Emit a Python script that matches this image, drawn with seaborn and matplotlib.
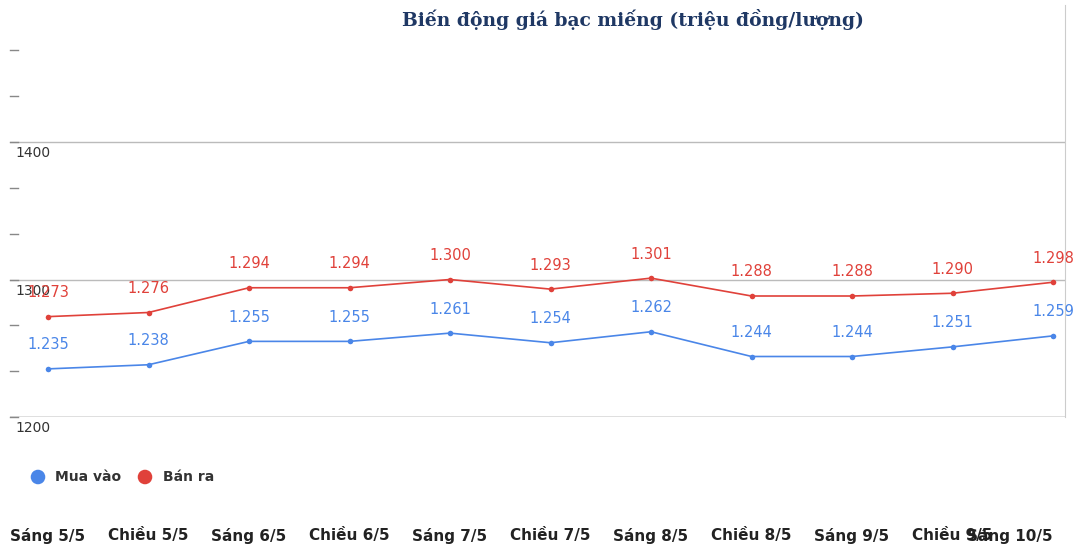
import matplotlib
matplotlib.use("Agg")
import matplotlib.pyplot as plt
import seaborn as sns
import pandas as pd
import numpy as np

categories = ["Sáng 5/5", "Chiều 5/5", "Sáng 6/5", "Chiều 6/5", "Sáng 7/5", "Chiều 7/5",
              "Sáng 8/5", "Chiều 8/5", "Sáng 9/5", "Chiều 9/5", "Sáng 10/5"]
mua_vao = [1235, 1238, 1255, 1255, 1261, 1254, 1262, 1244, 1244, 1251, 1259]
ban_ra = [1273, 1276, 1294, 1294, 1300, 1293, 1301, 1288, 1288, 1290, 1298]
y_ticks = [1200, 1300, 1400]

BLUE = "#4a86e8"
RED = "#e0413a"

df = pd.DataFrame({"x": list(range(len(categories))) * 2,
                   "v": mua_vao + ban_ra,
                   "s": ["Mua vào"] * len(categories) + ["Bán ra"] * len(categories)})

W, H = 1078, 558
fig = plt.figure(figsize=(W / 100, H / 100), dpi=100)
ax = fig.add_axes([10 / W, 1 - 417 / H, 1055 / W, (417 - 4.5) / H])
sns.lineplot(data=df, x="x", y="v", hue="s", palette={"Mua vào": BLUE, "Bán ra": RED},
             marker="o", markersize=4, markeredgewidth=0, linewidth=1.2, ax=ax, legend=False)
ax.set_xlim(-38 / 100.5, 10 + 12 / 100.5)
ax.set_ylim(1200, 1500)
ax.set_xlabel("")
ax.set_ylabel("")
for s in ["top", "left", "bottom"]:
    ax.spines[s].set_visible(False)
ax.spines["right"].set_color("#cccccc")
ax.set_yticks(y_ticks)
ax.set_yticklabels([])
ax.tick_params(axis="y", length=0)
ax.grid(axis="y", color="#bbbbbb", linewidth=1)
ax.axhline(1200, color="#999999", linewidth=1)
for t in y_ticks:
    ax.text(-33 / 100.5, t - 3, str(t), ha="left", va="top", fontsize=10, color="#333333")
for t in np.arange(1200, 1500, 100 / 3):
    ax.plot([-38 / 100.5, -30 / 100.5], [t, t], color="#888888", lw=1, clip_on=False)

ax.set_xticks(range(len(categories)))
ax.set_xticklabels(categories, fontsize=11, fontweight="bold", color="#222222")
ax.tick_params(axis="x", length=0, pad=80)
last = ax.get_xticklabels()[-1]
last.set_ha("right")
last.set_x(10.17)

def fmt(v):
    return f"{v // 1000}.{v % 1000:03d}"

for i, (b, s) in enumerate(zip(mua_vao, ban_ra)):
    ax.text(i, b + 12, fmt(b), ha="center", va="bottom", fontsize=10.5, color=BLUE)
    ax.text(i, s + 12, fmt(s), ha="center", va="bottom", fontsize=10.5, color=RED)

# legend
lax = fig.add_axes([0, 0, 1, 1], facecolor="none")
lax.set_axis_off()
lax.set_xlim(0, W)
lax.set_ylim(H, 0)
lax.scatter([38, 145], [477, 477], s=110, c=[BLUE, RED], linewidths=0)
lax.text(55, 477, "Mua vào", fontsize=10, fontweight="bold", color="#333333", va="center")
lax.text(163, 477, "Bán ra", fontsize=10, fontweight="bold", color="#333333", va="center")

fig.text(633 / W, 1 - 20 / H, "Biến động giá bạc miếng (triệu đồng/lượng)", ha="center", va="center",
         fontsize=13.5, fontweight="bold", family="DejaVu Serif", color="#1f3864")

fig.savefig("out.png", dpi=100, facecolor="white")
